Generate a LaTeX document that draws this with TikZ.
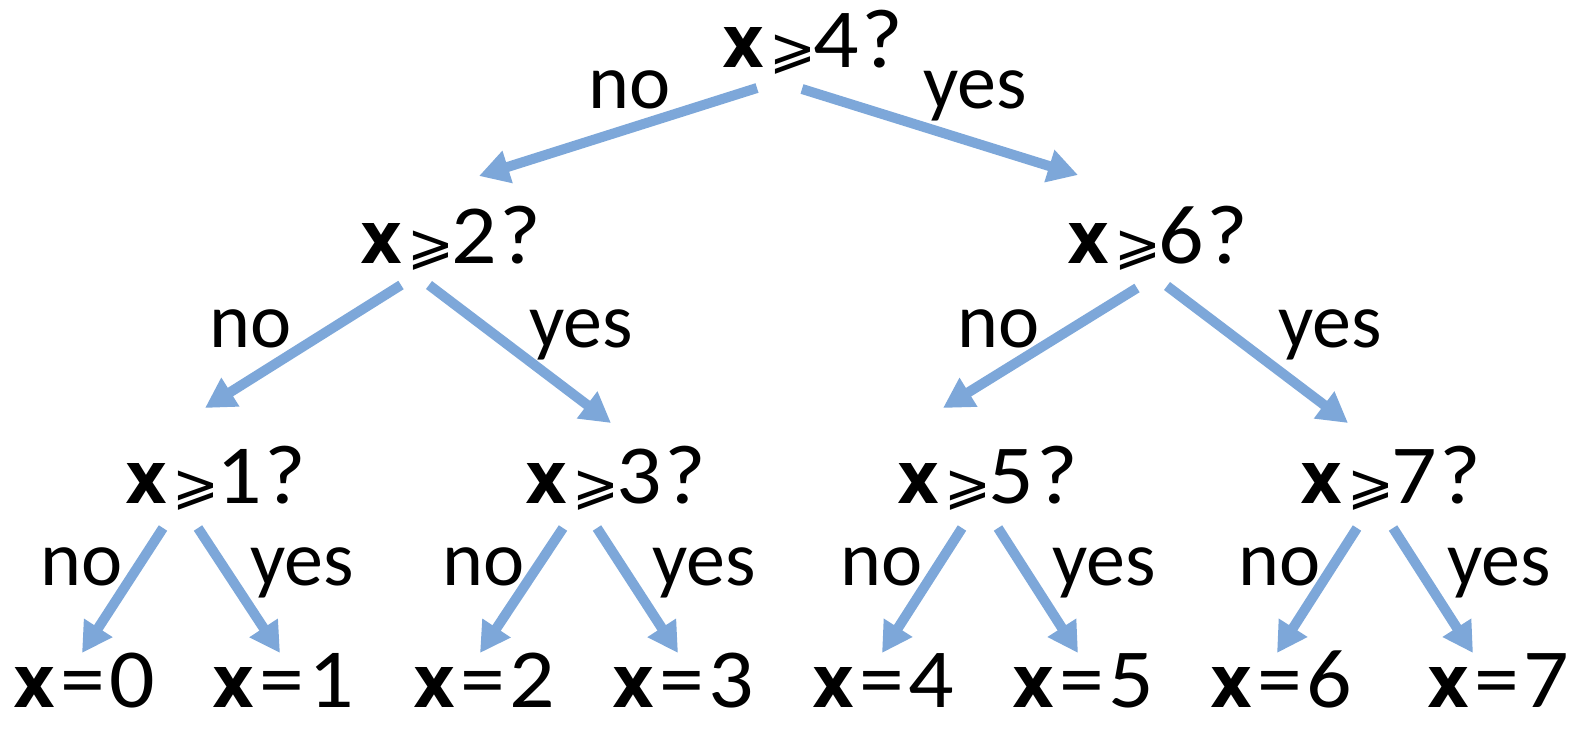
\documentclass[tikz,border=0pt]{standalone}
\usepackage{graphicx}
\usepackage{fontspec}
\setmainfont{Carlito}
\newfontfamily\qfont{Carlito}[FakeStretch=1.07]
\newfontfamily\symfont{DejaVu Sans}
\newfontfamily\xfont{DejaVu Sans}
\usetikzlibrary{arrows.meta}
\definecolor{arrowblue}{RGB}{125,167,217}
\newcommand\xv{\resizebox{42pt}{40pt}{\xfont\bfseries x}}
\newcommand\gsl{{\symfont\fontsize{56}{56}\selectfont ⩾}}
\newcommand\qtext[1]{\xv\hspace{5.5pt}\gsl\hspace{-3.5pt}{\qfont #1}\hspace{2.5pt}{\qfont ?}}
\newcommand\ltext[1]{\xv\hspace{5pt}{\qfont =}\hspace{5pt}{\qfont #1}}
\tikzset{
  qnode/.style={inner sep=0pt, anchor=base west, font=\fontsize{84}{84}\selectfont},
  leafnode/.style={inner sep=0pt, anchor=base west, font=\fontsize{84}{84}\selectfont},
  lbl/.style={inner sep=0pt, anchor=base west, font=\fontsize{78}{78}\selectfont},
  arr/.style={draw=arrowblue, line width=10pt, -{Triangle[length=30pt,width=32pt]}}
}
\begin{document}
\begin{tikzpicture}[x=1pt,y=-1pt]
\useasboundingbox (0,0) rectangle (1578,731);
% question nodes
\node[qnode] (q4) at (722,67) {\qtext{4}};
\node[qnode] (q2) at (360,263) {\qtext{2}};
\node[qnode] (q6) at (1067,263) {\qtext{6}};
\node[qnode] (q1) at (125,503) {\qtext{1}};
\node[qnode] (q3) at (525,503) {\qtext{3}};
\node[qnode] (q5) at (897,503) {\qtext{5}};
\node[qnode] (q7) at (1300,503) {\qtext{7}};
% leaves
\node[leafnode] (l0) at (13,707) {\ltext{0}};
\node[leafnode] (l1) at (212,707) {\ltext{1}};
\node[leafnode] (l2) at (413,707) {\ltext{2}};
\node[leafnode] (l3) at (612,707) {\ltext{3}};
\node[leafnode] (l4) at (812,707) {\ltext{4}};
\node[leafnode] (l5) at (1012,707) {\ltext{5}};
\node[leafnode] (l6) at (1210,707) {\ltext{6}};
\node[leafnode] (l7) at (1427,707) {\ltext{7}};
% labels
\node[lbl] (n4) at (588,108) {no};
\node[lbl] (y4) at (923,108) {yes};
\node[lbl] (n2) at (209,347) {no};
\node[lbl] (y2) at (529,347) {yes};
\node[lbl] (n6) at (957,347) {no};
\node[lbl] (y6) at (1278,347) {yes};
\node[lbl] (n1) at (40,585) {no};
\node[lbl] (y1) at (250,585) {yes};
\node[lbl] (n3) at (442,585) {no};
\node[lbl] (y3) at (652,585) {yes};
\node[lbl] (n5) at (840,585) {no};
\node[lbl] (y5) at (1052,585) {yes};
\node[lbl] (n7) at (1238,585) {no};
\node[lbl] (y7) at (1447,585) {yes};
% connector end points
\coordinate (q4-no) at (757,88);
\coordinate (q4-yes) at (802,89);
\coordinate (q2-in) at (479,176);
\coordinate (q6-in) at (1078,175);
\coordinate (q2-no) at (401,285);
\coordinate (q2-yes) at (429,285);
\coordinate (q1-in) at (205,408);
\coordinate (q3-in) at (611,423);
\coordinate (q6-no) at (1137,288);
\coordinate (q6-yes) at (1167,286);
\coordinate (q5-in) at (943,408);
\coordinate (q7-in) at (1348,423);
\coordinate (q1-no) at (163,528);
\coordinate (q1-yes) at (198,528);
\coordinate (l0-in) at (82,653);
\coordinate (l1-in) at (280,653);
\coordinate (q3-no) at (563,528);
\coordinate (q3-yes) at (597,528);
\coordinate (l2-in) at (480,653);
\coordinate (l3-in) at (678,653);
\coordinate (q5-no) at (962,528);
\coordinate (q5-yes) at (998,528);
\coordinate (l4-in) at (882,653);
\coordinate (l5-in) at (1078,653);
\coordinate (q7-no) at (1357,528);
\coordinate (q7-yes) at (1393,528);
\coordinate (l6-in) at (1277,653);
\coordinate (l7-in) at (1473,653);
% connectors
\draw[arr] (q4-no) -- (q2-in);
\draw[arr] (q4-yes) -- (q6-in);
\draw[arr] (q2-no) -- (q1-in);
\draw[arr] (q2-yes) -- (q3-in);
\draw[arr] (q6-no) -- (q5-in);
\draw[arr] (q6-yes) -- (q7-in);
\draw[arr] (q1-no) -- (l0-in);
\draw[arr] (q1-yes) -- (l1-in);
\draw[arr] (q3-no) -- (l2-in);
\draw[arr] (q3-yes) -- (l3-in);
\draw[arr] (q5-no) -- (l4-in);
\draw[arr] (q5-yes) -- (l5-in);
\draw[arr] (q7-no) -- (l6-in);
\draw[arr] (q7-yes) -- (l7-in);
\end{tikzpicture}
\end{document}
